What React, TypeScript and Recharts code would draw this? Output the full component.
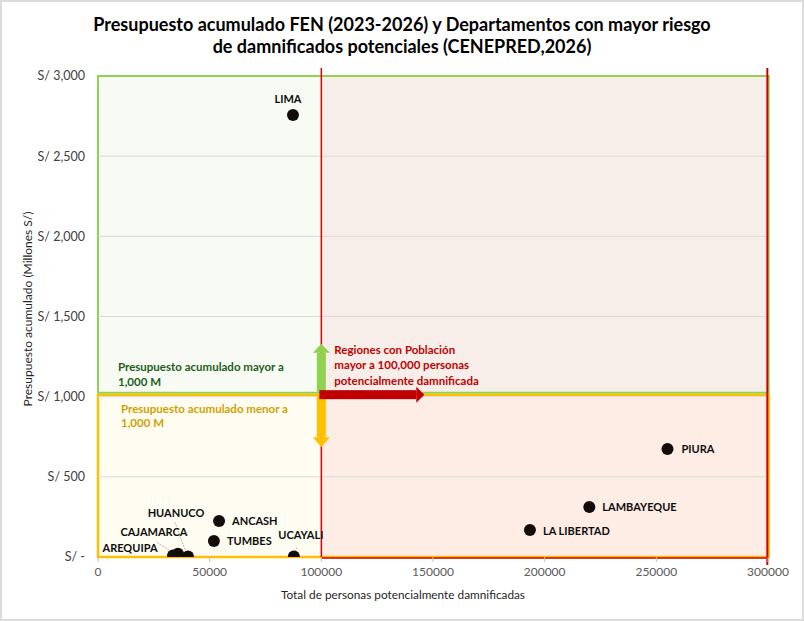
import {
  ScatterChart,
  Scatter,
  XAxis,
  YAxis,
  ReferenceArea,
  ReferenceLine,
  ReferenceDot,
} from "recharts";

// Departamentos y valores
const departamentos = [
  "LIMA",
  "PIURA",
  "LAMBAYEQUE",
  "LA LIBERTAD",
  "ANCASH",
  "TUMBES",
  "UCAYALI",
  "HUANUCO",
  "CAJAMARCA",
  "AREQUIPA",
];
const damnificados = [87300, 255000, 220000, 193400, 54200, 51900, 87700, 40300, 35800, 33600];
const presupuesto = [2757, 674, 312, 168, 225, 100, 3, 3, 20, 10];

const xTicks = [0, 50000, 100000, 150000, 200000, 250000, 300000];
const yTicks = [0, 500, 1000, 1500, 2000, 2500, 3000];
const gridValues = [500, 1000, 1500, 2000, 2500];

const data = departamentos.map((name, i) => ({
  name,
  x: damnificados[i],
  y: presupuesto[i],
}));

type Placement = {
  dx: number;
  dy: number;
  anchor: "start" | "middle";
  leader?: [number, number, number, number];
};

const placement: Record<string, Placement> = {
  LIMA: { dx: -5, dy: -16, anchor: "middle" },
  PIURA: { dx: 14, dy: 0, anchor: "start" },
  LAMBAYEQUE: { dx: 13, dy: 0, anchor: "start" },
  "LA LIBERTAD": { dx: 13, dy: 0, anchor: "start" },
  ANCASH: { dx: 13, dy: 0, anchor: "start" },
  TUMBES: { dx: 13, dy: 0, anchor: "start" },
  UCAYALI: { dx: 7, dy: -22, anchor: "middle", leader: [3, -9, 1, -4] },
  HUANUCO: { dx: -12, dy: -44, anchor: "middle", leader: [-13, -34, -2, -4] },
  CAJAMARCA: { dx: -24, dy: -22, anchor: "middle" },
  AREQUIPA: { dx: -43, dy: -8, anchor: "middle", leader: [-16, -13, -2, -4] },
};

const Punto = (props: any) => {
  const { cx, cy, payload } = props;
  const p = placement[payload.name];
  return (
    <g>
      {p.leader && (
        <line
          x1={cx + p.leader[0]}
          y1={cy + p.leader[1]}
          x2={cx + p.leader[2]}
          y2={cy + p.leader[3]}
          stroke="#A6A6A6"
          strokeWidth={0.8}
          strokeDasharray="2 1"
        />
      )}
      <circle cx={cx} cy={cy} r={6} fill="#140C0A" />
      <text
        x={cx + p.dx}
        y={cy + p.dy}
        textAnchor={p.anchor}
        dominantBaseline="central"
        fontSize={11}
        fontWeight={700}
        fill="#0D0D0D"
      >
        {payload.name}
      </text>
    </g>
  );
};

const Flechas = (props: any) => {
  const { cx, cy } = props;
  return (
    <g>
      <rect x={cx - 4.5} y={cy - 44} width={9} height={39} fill="#92D050" />
      <polygon points={`${cx},${cy - 53} ${cx - 8.5},${cy - 44} ${cx + 8.5},${cy - 44}`} fill="#92D050" />
      <rect x={cx - 4.5} y={cy - 1} width={9} height={41.5} fill="#FFC000" />
      <polygon points={`${cx},${cy + 50.5} ${cx - 8.5},${cy + 40.5} ${cx + 8.5},${cy + 40.5}`} fill="#FFC000" />
      <rect x={cx - 2} y={cy - 6.5} width={97} height={9} fill="#C00000" />
      <polygon
        points={`${cx + 103},${cy - 2} ${cx + 95},${cy - 10} ${cx + 95},${cy + 6}`}
        fill="#C00000"
      />
      <text x={cx + 13} fontSize={11.5} fontWeight={700} fill="#C00000" dominantBaseline="central">
        <tspan x={cx + 13} y={cy - 48}>Regiones con Población</tspan>
        <tspan x={cx + 13} y={cy - 33}>mayor a 100,000 personas</tspan>
        <tspan x={cx + 13} y={cy - 17}>potencialmente damnificada</tspan>
      </text>
    </g>
  );
};

const Rotulos = (props: any) => {
  const { cx, cy } = props;
  return (
    <g>
      <text fontSize={11.5} fontWeight={700} fill="#1D5E20" dominantBaseline="central">
        <tspan x={cx + 20} y={cy - 31}>Presupuesto acumulado mayor a</tspan>
        <tspan x={cx + 20} y={cy - 16}>1,000 M</tspan>
      </text>
      <text fontSize={11.5} fontWeight={700} fill="#D1A000" dominantBaseline="central">
        <tspan x={cx + 23} y={cy + 11}>Presupuesto acumulado menor a</tspan>
        <tspan x={cx + 23} y={cy + 25.5}>1,000 M</tspan>
      </text>
    </g>
  );
};

const formatY = (v: number) => (v === 0 ? "S/ -" : `S/ ${v.toLocaleString("en-US")}`);

export default function App() {
  return (
    <div
      style={{
        position: "absolute",
        left: 0,
        top: 0,
        width: 804,
        height: 621,
        background: "#fff",
        fontFamily: "Lato, 'Open Sans', sans-serif",
      }}
    >
      <div
        style={{
          position: "absolute",
          left: 0,
          top: 0,
          width: 804,
          height: 621,
          boxSizing: "border-box",
          border: "2px solid #DCDCDC",
        }}
      />
      <div
        style={{
          position: "absolute",
          left: 0,
          top: 13,
          width: 804,
          textAlign: "center",
          fontSize: 18,
          fontWeight: 700,
          lineHeight: "22px",
          color: "#000",
        }}
      >
        Presupuesto acumulado FEN (2023-2026) y Departamentos con mayor riesgo
        <br />
        de damnificados potenciales (CENEPRED,2026)
      </div>
      <div
        style={{
          position: "absolute",
          left: 27,
          top: 309,
          transform: "translate(-50%, -50%) rotate(-90deg)",
          whiteSpace: "nowrap",
          fontSize: 12,
          color: "#262626",
        }}
      >
        Presupuesto acumulado (Millones S/)
      </div>
      <div
        style={{
          position: "absolute",
          left: 0,
          top: 587,
          width: 806,
          textAlign: "center",
          fontSize: 11.8,
          color: "#262626",
        }}
      >
        Total de personas potencialmente damnificadas
      </div>
      <div style={{ position: "absolute", left: 0, top: 0 }}>
        <ScatterChart width={804} height={621} margin={{ top: 76, right: 36, bottom: 24, left: 28 }}>
          <XAxis
            type="number"
            dataKey="x"
            domain={[0, 300000]}
            ticks={xTicks}
            tickFormatter={(v: number) => String(v)}
            axisLine={false}
            tickLine={{ stroke: "#BFBFBF" }}
            tickSize={5}
            tickMargin={5}
            height={40}
            tick={{ fill: "#595959", fontSize: 12 }}
            allowDataOverflow
          />
          <YAxis
            type="number"
            dataKey="y"
            domain={[0, 3000]}
            ticks={yTicks}
            tickFormatter={formatY}
            axisLine={false}
            tickLine={false}
            tickMargin={7}
            width={70}
            tick={{ fill: "#404040", fontSize: 12.5 }}
            allowDataOverflow
          />
          <ReferenceArea x1={0} x2={100000} y1={1025} y2={3000} fill="#F8FBF3" fillOpacity={1} stroke="none" />
          <ReferenceArea x1={100000} x2={300000} y1={1025} y2={3000} fill="#F8EEE9" fillOpacity={1} stroke="none" />
          <ReferenceArea x1={0} x2={100000} y1={0} y2={1010} fill="#FFFDF2" fillOpacity={1} stroke="none" />
          <ReferenceArea x1={100000} x2={300000} y1={0} y2={1010} fill="#FDEDE5" fillOpacity={1} stroke="none" />
          {gridValues.map((g) => (
            <ReferenceLine key={g} y={g} stroke="#D9D9D9" strokeWidth={1} />
          ))}
          <ReferenceArea
            x1={0}
            x2={300300}
            y1={1025}
            y2={3000}
            fill="none"
            stroke="#92D050"
            strokeWidth={2}
            ifOverflow="visible"
          />
          <ReferenceArea
            x1={0}
            x2={300300}
            y1={0}
            y2={1010}
            fill="none"
            stroke="#FFC000"
            strokeWidth={2.5}
            ifOverflow="visible"
          />
          <ReferenceLine
            segment={[
              { x: 100000, y: 3050 },
              { x: 100000, y: 0 },
            ]}
            stroke="#E00000"
            strokeWidth={1.5}
            ifOverflow="visible"
          />
          <ReferenceLine
            segment={[
              { x: 299700, y: 3050 },
              { x: 299700, y: -50 },
            ]}
            stroke="#D00000"
            strokeWidth={2}
            ifOverflow="visible"
          />
          <ReferenceLine
            segment={[
              { x: 100000, y: -6 },
              { x: 299700, y: -6 },
            ]}
            stroke="#D00000"
            strokeWidth={1.5}
            ifOverflow="visible"
          />
          <ReferenceDot x={0} y={1000} r={0} shape={Rotulos} ifOverflow="visible" />
          <ReferenceDot x={100000} y={1000} r={0} shape={Flechas} ifOverflow="visible" />
          <Scatter data={data} shape={Punto} isAnimationActive={false} />
        </ScatterChart>
      </div>
    </div>
  );
}
